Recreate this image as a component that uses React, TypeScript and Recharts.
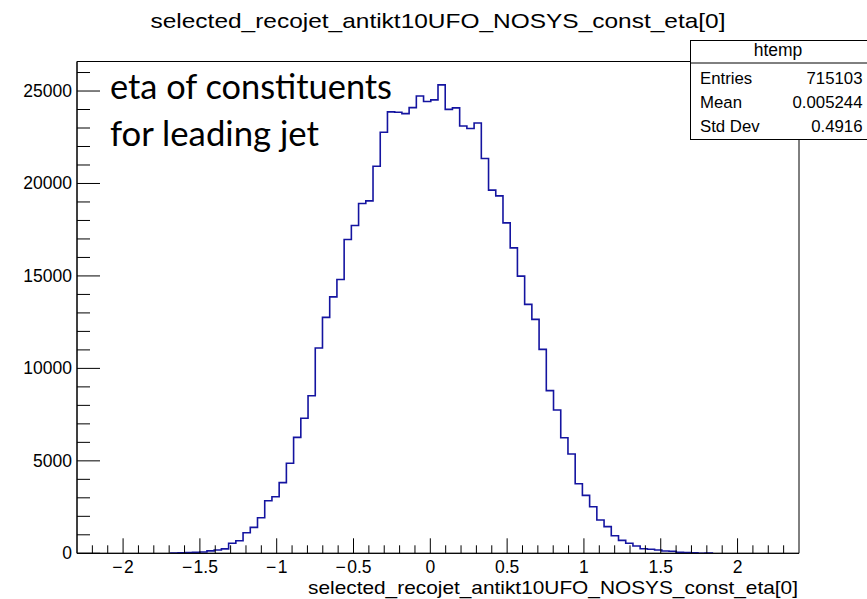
import React from "react";
import { LineChart, Line, XAxis, YAxis, ReferenceArea } from "recharts";

// histogram binning: 100 bins over the range that ROOT picked
const X_MIN = -2.3;
const X_MAX = 2.4;

// bin contents (bins 0..99)
const COUNTS = [
  0, 0, 0, 0, 0, 0, 0, 0, 0, 0,
  0, 0, 0, 20, 30, 40, 50, 70, 130, 180,
  240, 540, 680, 1110, 1400, 1920, 2840, 3060, 3820, 4870,
  6270, 7300, 8520, 11100, 12760, 13870, 14810, 16970, 17730, 18920,
  19060, 20930, 22770, 23870, 23850, 23780, 24100, 24730, 24430, 24520,
  25330, 24010, 24090, 23110, 22970, 23270, 21350, 19640, 19330, 17870,
  16520, 14990, 13460, 12650, 11030, 8800, 7750, 6250, 5370, 3760,
  3130, 2520, 1800, 1440, 950, 700, 540, 395, 250, 215,
  178, 124, 110, 50, 40, 30, 0, 20, 0, 0,
  0, 0, 0, 0, 0, 0, 0, 0, 0, 0,
];

const X_LABELS = [-2, -1.5, -1, -0.5, 0, 0.5, 1, 1.5, 2];
const Y_LABELS = [0, 5000, 10000, 15000, 20000, 25000];

const TITLE = "selected_recojet_antikt10UFO_NOSYS_const_eta[0]";
const STAT_NAME = "htemp";
const STAT_LABELS = ["Entries", "Mean", "Std Dev"];
const STAT_VALUES = ["715103", "0.005244", "0.4916"];
const NOTE = ["eta of constituents", "for leading jet"];

const BIN_W = (X_MAX - X_MIN) / COUNTS.length;
const Y_MAX = Math.max(...COUNTS) * 1.05;

const first = COUNTS.findIndex((c) => c > 0);
const last = COUNTS.length - 1 - [...COUNTS].reverse().findIndex((c) => c > 0);

const steps: { x: number; y: number }[] = [{ x: X_MIN + first * BIN_W, y: 0 }];
for (let i = first; i <= last; i++) steps.push({ x: X_MIN + i * BIN_W, y: COUNTS[i] });
steps.push({ x: X_MIN + (last + 1) * BIN_W, y: COUNTS[last] });
steps.push({ x: X_MIN + (last + 1) * BIN_W, y: 0 });

// minor ticks every 0.1 in x, every 1000 in y
const X_TICKS: number[] = [];
for (let k = -22; k <= 23; k++) X_TICKS.push(k / 10);
const Y_TICKS: number[] = [];
for (let k = 0; k <= 26; k++) Y_TICKS.push(k * 1000);

const FONT = "'Liberation Sans', Arial, Helvetica, sans-serif";
const LINE_COLOR = "#1414a0";

const fmt = (v: number) => (v < 0 ? "\u2212\u200a" + Math.abs(v) : String(v));

const YTick = (props: any) => {
  const { x, y, payload } = props;
  const major = Y_LABELS.includes(payload.value);
  return (
    <g>
      <line x1={x} y1={y} x2={x + (major ? 23 : 13)} y2={y} stroke="#000" />
      {major && (
        <text x={x - 5} y={y + 6} fontFamily={FONT} fontSize={17.5} textAnchor="end" fill="#000">
          {payload.value}
        </text>
      )}
    </g>
  );
};

const XTick = (props: any) => {
  const { x, y, payload } = props;
  const major = X_LABELS.some((v) => Math.abs(v - payload.value) < 1e-6);
  return (
    <g>
      <line x1={x} y1={y} x2={x} y2={y - (major ? 15 : 8)} stroke="#000" />
      {major && (
        <text x={x} y={y + 20} fontFamily={FONT} fontSize={17.5} textAnchor="middle" fill="#000">
          {fmt(payload.value)}
        </text>
      )}
    </g>
  );
};

const App: React.FC = () => {
  return (
    <div style={{ position: "absolute", left: 0, top: 0, width: 867, height: 599, background: "#fff" }}>
      <LineChart
        width={867}
        height={599}
        data={steps}
        margin={{ top: 61.5, right: 68, bottom: 0, left: 0 }}
      >
        <XAxis
          dataKey="x"
          type="number"
          domain={[X_MIN, X_MAX]}
          allowDataOverflow
          ticks={X_TICKS}
          interval={0}
          tick={<XTick />}
          tickLine={false}
          tickSize={0}
          tickMargin={0}
          height={45.7}
          axisLine={{ stroke: "#000" }}
        />
        <YAxis
          type="number"
          domain={[0, Y_MAX]}
          allowDataOverflow
          ticks={Y_TICKS}
          interval={0}
          tick={<YTick />}
          tickLine={false}
          tickSize={0}
          tickMargin={0}
          width={77}
          axisLine={{ stroke: "#000" }}
        />
        <ReferenceArea x1={X_MIN} x2={X_MAX} y1={0} y2={Y_MAX} fill="none" stroke="#000" strokeWidth={1} ifOverflow="visible" />
        <Line
          dataKey="y"
          type="stepAfter"
          stroke={LINE_COLOR}
          strokeWidth={1.6}
          dot={false}
          isAnimationActive={false}
        />
      </LineChart>
      <svg width={867} height={599} style={{ position: "absolute", left: 0, top: 0, pointerEvents: "none" }}>
        <text x={438} y={28} fontFamily={FONT} fontSize={21} textAnchor="middle" textLength={575} lengthAdjust="spacingAndGlyphs">
          {TITLE}
        </text>
        <text x={798} y={594} fontFamily={FONT} fontSize={18.5} textAnchor="end" textLength={490} lengthAdjust="spacingAndGlyphs">
          {TITLE}
        </text>
        <text x={110} y={99} fontFamily="Lato, 'Open Sans', sans-serif" fontSize={34} textLength={282} lengthAdjust="spacingAndGlyphs">
          {NOTE[0]}
        </text>
        <text x={110} y={146} fontFamily="Lato, 'Open Sans', sans-serif" fontSize={34} textLength={209} lengthAdjust="spacingAndGlyphs">
          {NOTE[1]}
        </text>
        <rect x={690.5} y={40.5} width={190} height={99} fill="#fff" stroke="#000" />
        <line x1={690.5} y1={63} x2={867} y2={63} stroke="#000" />
        <text x={778} y={55.5} fontFamily={FONT} fontSize={17.5} textAnchor="middle">
          {STAT_NAME}
        </text>
        {STAT_LABELS.map((s, i) => (
          <g key={s}>
            <text x={700} y={83.5 + i * 24.2} fontFamily={FONT} fontSize={16.8}>
              {s}
            </text>
            <text x={862.5} y={83.5 + i * 24.2} fontFamily={FONT} fontSize={16.8} textAnchor="end">
              {STAT_VALUES[i]}
            </text>
          </g>
        ))}
      </svg>
    </div>
  );
};

export default App;
